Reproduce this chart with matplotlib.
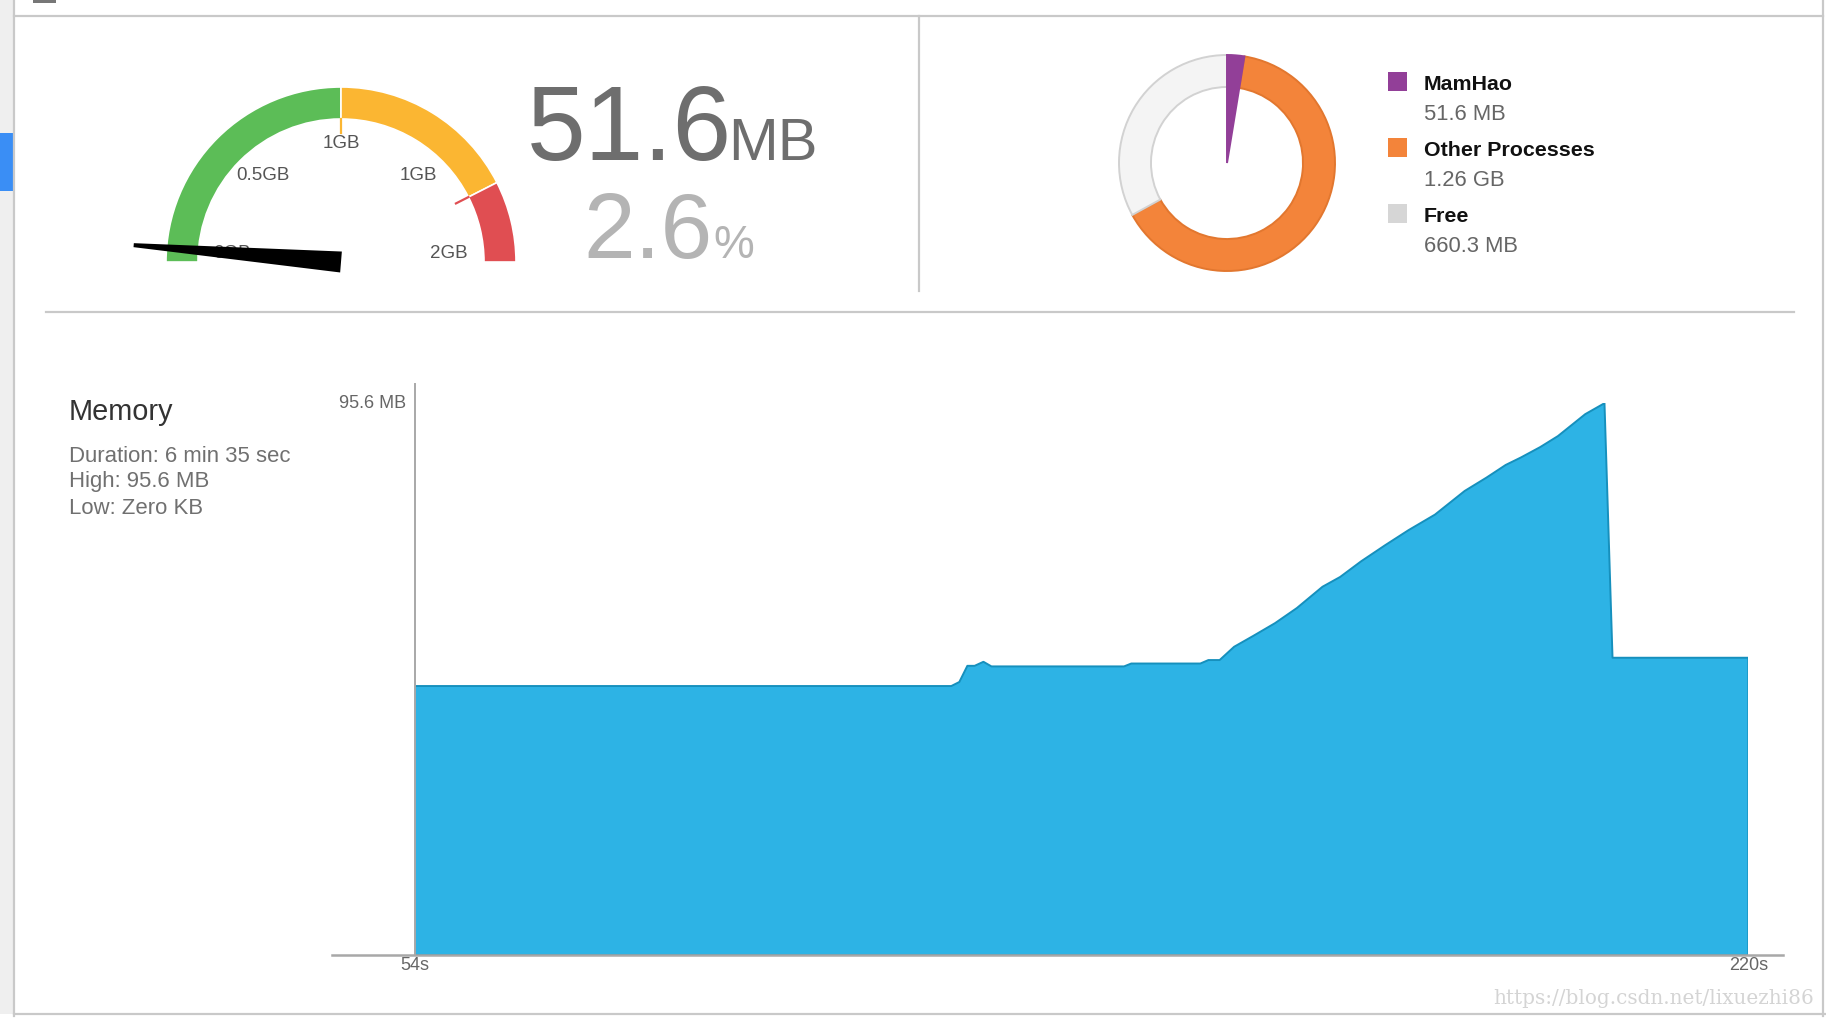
#!/usr/bin/env python3
"""
Xcode-style memory report: gauge, usage donut and memory timeline
"""

import numpy as np
import matplotlib
matplotlib.use('Agg')
import matplotlib.pyplot as plt
from matplotlib.patches import Rectangle, Polygon

plt.rcParams['font.family'] = ['Liberation Sans', 'DejaVu Sans']

W, H = 1826, 1018

# ---- data -------------------------------------------------------------
# gauge zones (GB) and the app's current usage
gauge_zone_gb = [1.0, 0.7, 0.3]
gauge_zone_colors = ['#5cbd57', '#fbb632', '#e04e52']
gauge_labels = ['0GB', '0.5GB', '1GB', '1GB', '2GB']
app_mem_mb = 51.6
app_mem_pct = 2.6

# usage donut
mem_labels = ['MamHao', 'Other Processes', 'Free']
mem_values_mb = [51.6, 1290.2, 660.3]
mem_value_text = ['51.6 MB', '1.26 GB', '660.3 MB']
mem_colors = ['#923f98', '#f3843a', '#f4f4f4']
mem_edges = ['#923f98', '#e2772f', '#d2d2d2']
mem_swatch = ['#923f98', '#f3843a', '#d6d6d6']

# memory timeline (seconds, MB)
time_s = [54.0, 120.8, 121.8, 122.8, 123.7, 124.8, 125.8, 142.3, 143.2,
          151.8, 152.8, 154.2, 156.0, 158.4, 161.1, 163.8, 167.0, 169.2,
          171.8, 174.8, 177.7, 181.0, 184.7, 187.4, 189.8, 191.7, 194.1,
          196.3, 199.7, 202.1, 203.1, 220.0]
memory_mb = [46.6, 46.6, 47.3, 50.1, 50.1, 50.8, 50.0, 50.0, 50.5,
             50.5, 51.1, 51.1, 53.4, 55.3, 57.5, 60.1, 63.8, 65.5,
             68.2, 71.0, 73.6, 76.3, 80.4, 82.7, 84.9, 86.2, 88.0,
             89.9, 93.7, 95.6, 51.5, 51.5]
mem_high_mb = 95.6
summary_lines = ['Duration: 6 min 35 sec', 'High: 95.6 MB', 'Low: Zero KB']

# ---- layout (pixels) --------------------------------------------------
GAUGE_C = (341, 262)
GAUGE_R, GAUGE_W = 175, 32
GAUGE_LABEL_POS = [(-109, 9), (-78, 87), (0, 119), (77, 87), (108, 8)]
DONUT_C = (1227, 163)
DONUT_R, DONUT_W = 108, 32
AREA_BOX = (414.6, 403.2, 1748.3, 955)


def px_box(x0, y0, x1, y1):
    """pixel box (top-left origin) -> figure fraction rect"""
    return [x0 / W, 1 - y1 / H, (x1 - x0) / W, (y1 - y0) / H]


fig = plt.figure(figsize=(W / 100, H / 100), dpi=100)
fig.patch.set_facecolor('white')

# overlay for window chrome and free text
ov = fig.add_axes([0, 0, 1, 1], zorder=0)
ov.set_xlim(0, W)
ov.set_ylim(H, 0)
ov.axis('off')

ov.add_patch(Rectangle((0, 0), 14, 1014, color='#efefef', lw=0))
ov.add_patch(Rectangle((0, 133), 13, 58, color='#3a8ef5', lw=0))
ov.add_patch(Rectangle((33, 0), 23, 3, color='#777777', lw=0))
line_kw = dict(color='#c9c9c9', lw=1.6)
ov.plot([14, 14], [0, 1016], **line_kw)
ov.plot([14, 1823], [16, 16], **line_kw)
ov.plot([1823, 1823], [0, 1016], **line_kw)
ov.plot([14, 1826], [1014, 1014], **line_kw)
ov.plot([919, 919], [16, 291], **line_kw)
ov.plot([46, 1794], [312, 312], **line_kw)

# big readout
ov.text(527, 160, f'{app_mem_mb:.1f}', fontsize=76, color='#6e6e6e', va='baseline')
ov.text(728, 160, 'MB', fontsize=43, color='#6e6e6e', va='baseline')
ov.text(583, 258, f'{app_mem_pct:.1f}', fontsize=67, color='#b4b4b4', va='baseline')
ov.text(713, 258, '%', fontsize=33, color='#b4b4b4', va='baseline')

# donut legend
for i, (lab, txt) in enumerate(zip(mem_labels, mem_value_text)):
    y0 = 72 + 66 * i
    ov.add_patch(Rectangle((1388, y0), 19, 19, color=mem_swatch[i], lw=0))
    ov.text(1424, y0 + 18, lab, fontsize=15.4, fontweight='bold', color='#111111', va='baseline')
    ov.text(1424, y0 + 48, txt, fontsize=15.8, color='#666666', va='baseline')

# memory summary
ov.text(69, 420, 'Memory', fontsize=20.8, color='#333333', va='baseline')
for i, s in enumerate(summary_lines):
    ov.text(69, 461.5 + 26 * i, s, fontsize=15.9, color='#707070', va='baseline')

ov.text(1814, 1004, 'https://blog.csdn.net/lixuezhi86', fontsize=14.4,
        family='DejaVu Serif', color='#d4d4d4', ha='right', va='baseline')

# ---- gauge ------------------------------------------------------------
gx = fig.add_axes(px_box(GAUGE_C[0] - 230, GAUGE_C[1] - 230,
                         GAUGE_C[0] + 230, GAUGE_C[1] + 230), zorder=2)
full_scale = sum(gauge_zone_gb)
wedges, _ = gx.pie(gauge_zone_gb + [full_scale], colors=gauge_zone_colors + ['none'],
                   startangle=180, counterclock=False, radius=GAUGE_R,
                   wedgeprops=dict(width=GAUGE_W, edgecolor='white', linewidth=1.2))
wedges[-1].set_edgecolor('none')

# boundary ticks on the inner edge
bounds = np.cumsum(gauge_zone_gb)[:-1]
for b, col in zip(bounds, gauge_zone_colors[1:]):
    ang = np.radians(180 - b / full_scale * 180)
    r0, r1 = GAUGE_R - GAUGE_W - 14, GAUGE_R - GAUGE_W
    gx.plot([r0 * np.cos(ang), r1 * np.cos(ang)], [r0 * np.sin(ang), r1 * np.sin(ang)],
            color=col, lw=1.6, zorder=3)

for lab, (dx, dy) in zip(gauge_labels, GAUGE_LABEL_POS):
    gx.text(dx, dy, lab, fontsize=13.5, color='#555555', ha='center', va='center', zorder=3)

# needle
ang = np.radians(180 - app_mem_mb / (full_scale * 1000) * 180)
d = np.array([np.cos(ang), np.sin(ang)])
p = np.array([-d[1], d[0]])
tip = d * 208
needle = Polygon([p * 10.5, tip + p * 2, tip - p * 2, -p * 10.5],
                 closed=True, color='black', lw=0, zorder=5)
gx.add_patch(needle)
gx.set_xlim(-230, 230)
gx.set_ylim(-230, 230)
gx.axis('off')

# ---- donut ------------------------------------------------------------
dx_ = fig.add_axes(px_box(DONUT_C[0] - 140, DONUT_C[1] - 140,
                          DONUT_C[0] + 140, DONUT_C[1] + 140), zorder=2)
dw, _ = dx_.pie(mem_values_mb, colors=mem_colors, startangle=90, counterclock=False,
                radius=DONUT_R, wedgeprops=dict(width=DONUT_W, linewidth=1.4))
for w, ec in zip(dw, mem_edges):
    w.set_edgecolor(ec)
dw[0].set_width(None)
dw[0].set_zorder(3)
dx_.set_xlim(-140, 140)
dx_.set_ylim(-140, 140)
dx_.axis('off')

# ---- memory timeline --------------------------------------------------
ax = fig.add_axes(px_box(*AREA_BOX), zorder=2)
t = np.array(time_s)
m = np.array(memory_mb)
ax.fill(np.r_[t, t[-1], t[0]], np.r_[m, 0, 0], facecolor='#2db3e5',
        edgecolor='#1690bd', lw=1.4, joinstyle='round')
ax.set_xlim(t[0], t[-1])
ax.set_ylim(0, mem_high_mb)
ax.axis('off')

# axis lines
ax.plot([0, 0], [0, 1.035], transform=ax.transAxes, clip_on=False, color='#a8a8a8', lw=1.4)
ax.plot([-0.062, 1.026], [0, 0], transform=ax.transAxes, clip_on=False, color='#a8a8a8', lw=1.8)
ax.text(-0.006, 1.0, f'{mem_high_mb} MB', transform=ax.transAxes, fontsize=13,
        color='#666666', ha='right', va='center')
ax.text(0, -0.019, f'{time_s[0]:.0f}s', transform=ax.transAxes, fontsize=13,
        color='#666666', ha='center', va='center')
ax.text(1, -0.019, f'{time_s[-1]:.0f}s', transform=ax.transAxes, fontsize=13,
        color='#666666', ha='center', va='center')

fig.savefig('out.png', dpi=100)
